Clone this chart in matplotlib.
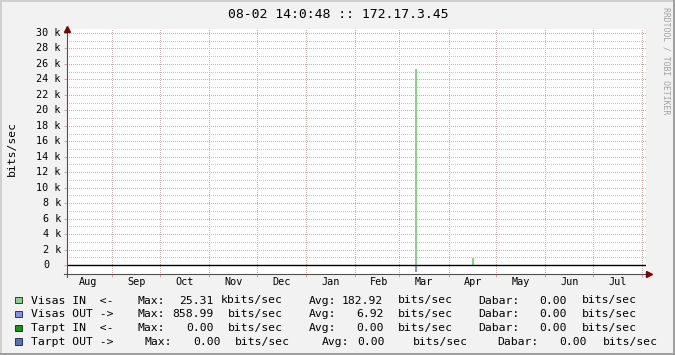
import datetime as dt
import numpy as np
import matplotlib
matplotlib.use("Agg")
import matplotlib.pyplot as plt
import matplotlib.dates as mdates
import matplotlib.transforms as mtransforms
from matplotlib.lines import Line2D
from matplotlib.patches import Rectangle

# Duomenys (metinis grafikas)
pradzia = dt.datetime(2010, 8, 3, 12)
pabaiga = dt.datetime(2011, 8, 3, 12)

dienos = [dt.datetime(2011, 3, 11), dt.datetime(2011, 4, 16)]
visas_in = [25310, 950]
visas_out = [-859, -120]

y_major = [0, 2000, 4000, 6000, 8000, 10000, 12000, 14000,
           16000, 18000, 20000, 22000, 24000, 26000, 28000, 30000]
y_minor = [1000, 3000, 5000, 7000, 9000, 11000, 13000, 15000,
           17000, 19000, 21000, 23000, 25000, 27000, 29000]
menesiai = ["Aug", "Sep", "Oct", "Nov", "Dec", "Jan",
            "Feb", "Mar", "Apr", "May", "Jun", "Jul"]

pavadinimai = ["Visas IN  <-", "Visas OUT ->", "Tarpt IN  <-", "Tarpt OUT ->"]
spalvos = ["#80d880", "#8090ff", "#00a000", "#5470c4"]
max_reiksmes = [25.31, 858.99, 0.00, 0.00]
max_vienetai = ["kbits/sec", "bits/sec", "bits/sec", "bits/sec"]
avg_reiksmes = [182.92, 6.92, 0.00, 0.00]
dabar_reiksmes = [0.00, 0.00, 0.00, 0.00]

W, H = 675, 355
MONO = "DejaVu Sans Mono"


def fx(px):
    return px / W


def fy(py):
    return 1 - py / H


fig = plt.figure(figsize=(6.75, 3.55), dpi=100, facecolor="#f2f2f2")

# 3D remelis
fig.patches.append(Rectangle((0, fy(2)), 1, 2 / H, transform=fig.transFigure,
                             color="#cfcfcf", lw=0))
fig.patches.append(Rectangle((0, 0), 2 / W, 1, transform=fig.transFigure,
                             color="#cfcfcf", lw=0))
fig.patches.append(Rectangle((0, 0), 1, 2 / H, transform=fig.transFigure,
                             color="#9e9e9e", lw=0))
fig.patches.append(Rectangle((1 - 2 / W, 0), 2 / W, 1, transform=fig.transFigure,
                             color="#9e9e9e", lw=0))

# Grafiko sritis
kaire, desine, virsus, apacia = 67, 646, 29, 274
px_per_k = 7.733
ax = fig.add_axes([fx(kaire), fy(apacia), fx(desine - kaire), (apacia - virsus) / H])
ax.set_facecolor("white")
ax.set_xlim(pradzia, pabaiga)
ax.set_ylim(-(apacia - 265) / px_per_k * 1000, 30000 + (33 - virsus) / px_per_k * 1000)
for s in ax.spines.values():
    s.set_visible(False)

ax.set_yticks(y_major)
ax.xaxis.set_major_locator(mdates.MonthLocator())
ax.tick_params(labelleft=False, labelbottom=False)
ax.tick_params(which="major", direction="out", length=2, width=0.72, color="#dca0a0")

# Tinklelis - taskine linija (1 px / 1 px)
taskai = (0.5, (1, 1))
for v in y_minor:
    ax.axhline(v, color="#c4c4c4", lw=0.72, ls=taskai, zorder=1)
for v in y_major:
    ax.axhline(v, color="#e2a2a2", lw=0.72, ls=taskai, zorder=1.5)
for t in ax.xaxis.get_majorticklocs():
    ax.axvline(t, color="#e2a2a2", lw=0.72, ls=taskai, zorder=1.5)

# Smailes
ax.bar(dienos, visas_in, width=1.25, align="edge", color="#80d880", lw=0, zorder=3)
ax.bar(dienos, visas_out, width=1.25, align="edge", color="#8090ff", lw=0, zorder=3)
ax.axhline(0, color="black", lw=1.0, zorder=4)

# Asys su rodyklemis
fig.add_artist(Line2D([fx(kaire), fx(kaire)], [fy(apacia + 3), fy(virsus)],
                      color="#505050", lw=0.8))
fig.add_artist(Line2D([fx(kaire - 3), fx(desine + 3)], [fy(apacia), fy(apacia)],
                      color="#505050", lw=0.8))
fig.add_artist(Line2D([fx(kaire)], [fy(virsus)], marker="^", ms=4.2,
                      color="#7f0000", lw=0))
fig.add_artist(Line2D([fx(desine + 3)], [fy(apacia)], marker=">", ms=4.2,
                      color="#7f0000", lw=0))

# Y asies uzrasai
ytr = mtransforms.blended_transform_factory(fig.transFigure, ax.transData)
for v in y_major:
    if v == 0:
        ax.text(fx(49.5), v, "0", transform=ytr, ha="right", va="center",
                family=MONO, fontsize=7.3)
    else:
        ax.text(fx(61), v, f"{v // 1000} k", transform=ytr, ha="right", va="center",
                family=MONO, fontsize=7.3)

# Menesiu uzrasai
xtr = mtransforms.blended_transform_factory(ax.transData, fig.transFigure)
for i, m in enumerate(menesiai):
    men = 8 + i
    metai = 2010 + (men - 1) // 12
    men = (men - 1) % 12 + 1
    ax.text(dt.datetime(metai, men, 16, 12), fy(281.8), m, transform=xtr,
            ha="center", va="center", family=MONO, fontsize=7.3)

# Antraste ir asies pavadinimas
fig.text(fx(338), fy(18.3), "08-02 14:0:48 :: 172.17.3.45", ha="center",
         va="baseline", family=MONO, fontsize=9.45)
fig.text(fx(12), fy(149), "bits/sec", rotation=90, ha="center", va="center",
         family=MONO, fontsize=8.2)
fig.text(fx(665.7), fy(60.5), "RRDTOOL / TOBI OETIKER", rotation=270,
         ha="center", va="center", family=MONO, fontsize=5.9, color="#a0a0a0")

# Legenda
CW = 6.83
eil_pos = [
    dict(mx=137.3, mv=213.7, mu=220.7, ax_=308.3, av=383.3, au=391.5,
         dx=478.3, dv=566.6, du=575.5),
] * 3 + [
    dict(mx=144.3, mv=220.6, mu=228.5, ax_=321.7, av=384.6, au=406.5,
         dx=497.3, dv=586.3, du=596.5),
]
for i in range(4):
    base = 303.5 + 13.9 * i
    p = eil_pos[i]
    fig.patches.append(Rectangle((fx(15), fy(base - 0.3)), 6.5 / W, 6.5 / H,
                                 transform=fig.transFigure, facecolor=spalvos[i],
                                 edgecolor="black", lw=0.5))
    kw = dict(va="baseline", family=MONO, fontsize=8.2)
    fig.text(fx(30.7), fy(base), pavadinimai[i], ha="left", **kw)
    fig.text(fx(p["mx"]), fy(base), "Max:", ha="left", **kw)
    fig.text(fx(p["mv"]), fy(base), f"{max_reiksmes[i]:.2f}", ha="right", **kw)
    ux = p["mu"] if max_vienetai[i].startswith("k") else p["mu"] + CW
    fig.text(fx(ux), fy(base), max_vienetai[i], ha="left", **kw)
    fig.text(fx(p["ax_"]), fy(base), "Avg:", ha="left", **kw)
    fig.text(fx(p["av"]), fy(base), f"{avg_reiksmes[i]:.2f}", ha="right", **kw)
    fig.text(fx(p["au"] + CW), fy(base), "bits/sec", ha="left", **kw)
    fig.text(fx(p["dx"]), fy(base), "Dabar:", ha="left", **kw)
    fig.text(fx(p["dv"]), fy(base), f"{dabar_reiksmes[i]:.2f}", ha="right", **kw)
    fig.text(fx(p["du"] + CW), fy(base), "bits/sec", ha="left", **kw)

fig.savefig("out.png", dpi=100, facecolor=fig.get_facecolor())
